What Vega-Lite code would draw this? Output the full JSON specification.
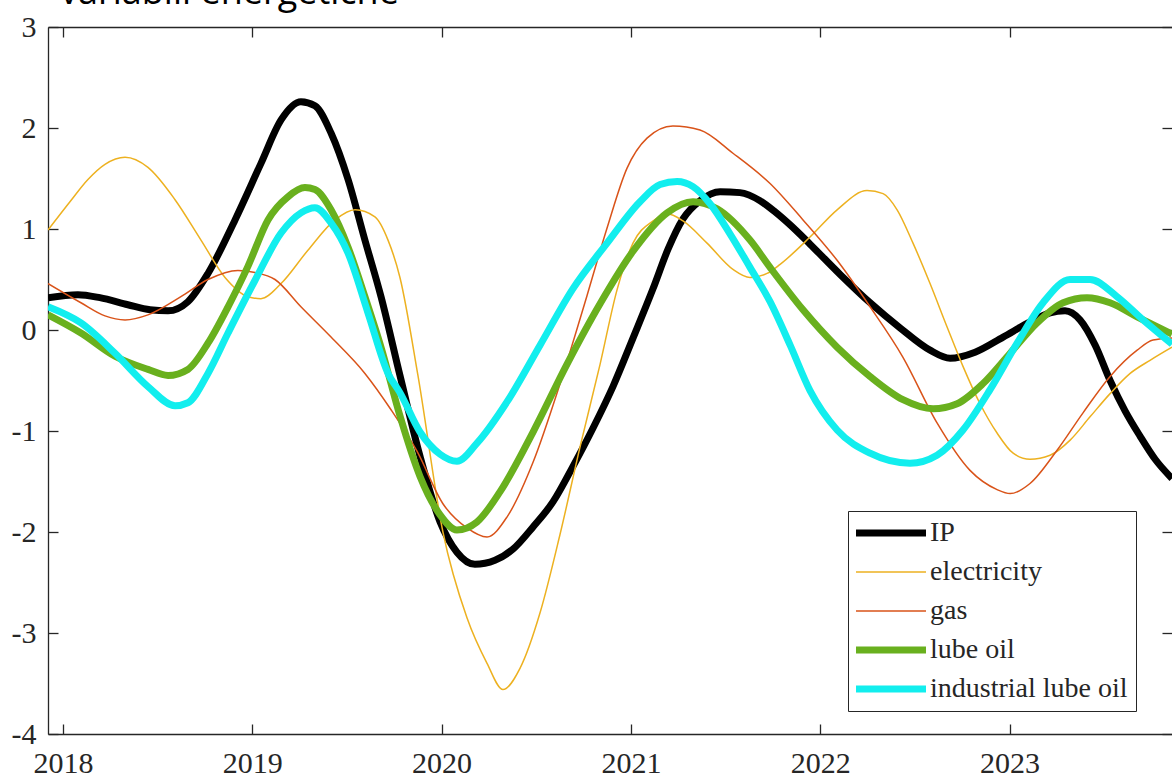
{
  "$schema": "https://vega.github.io/schema/vega-lite/v6.json",
  "width": 1124,
  "height": 707,
  "autosize": {"type": "none"},
  "padding": {"left": 48, "top": 27, "right": 0, "bottom": 45},
  "background": "white",
  "title": {"text": "variabili energetiche", "anchor": "start", "frame": "group", "font": "Open Sans", "fontSize": 36, "fontWeight": "normal", "color": "#000000", "baseline": "alphabetic", "offset": 8, "dx": 12, "dy": 36},
  "data": {"values": [
    {"series":"IP","year":2017.921,"value":0.32},{"series":"IP","year":2018.079,"value":0.35},{"series":"IP","year":2018.195,"value":0.32},{"series":"IP","year":2018.343,"value":0.25},{"series":"IP","year":2018.46,"value":0.2},{"series":"IP","year":2018.555,"value":0.19},{"series":"IP","year":2018.66,"value":0.28},{"series":"IP","year":2018.766,"value":0.56},{"series":"IP","year":2018.909,"value":1.09},{"series":"IP","year":2019.046,"value":1.65},{"series":"IP","year":2019.152,"value":2.08},{"series":"IP","year":2019.257,"value":2.26},{"series":"IP","year":2019.331,"value":2.22},{"series":"IP","year":2019.416,"value":1.95},{"series":"IP","year":2019.506,"value":1.49},{"series":"IP","year":2019.595,"value":0.89},{"series":"IP","year":2019.68,"value":0.33},{"series":"IP","year":2019.78,"value":-0.45},{"series":"IP","year":2019.886,"value":-1.25},{"series":"IP","year":2019.992,"value":-1.9},{"series":"IP","year":2020.081,"value":-2.2},{"series":"IP","year":2020.176,"value":-2.32},{"series":"IP","year":2020.282,"value":-2.28},{"series":"IP","year":2020.377,"value":-2.17},{"series":"IP","year":2020.483,"value":-1.95},{"series":"IP","year":2020.589,"value":-1.7},{"series":"IP","year":2020.694,"value":-1.35},{"series":"IP","year":2020.8,"value":-0.97},{"series":"IP","year":2020.905,"value":-0.56},{"series":"IP","year":2021.011,"value":-0.08},{"series":"IP","year":2021.117,"value":0.41},{"series":"IP","year":2021.196,"value":0.8},{"series":"IP","year":2021.275,"value":1.1},{"series":"IP","year":2021.365,"value":1.28},{"series":"IP","year":2021.471,"value":1.37},{"series":"IP","year":2021.576,"value":1.36},{"series":"IP","year":2021.682,"value":1.28},{"series":"IP","year":2021.761,"value":1.17},{"series":"IP","year":2021.841,"value":1.04},{"series":"IP","year":2021.946,"value":0.85},{"series":"IP","year":2022.105,"value":0.55},{"series":"IP","year":2022.263,"value":0.27},{"series":"IP","year":2022.422,"value":0.02},{"series":"IP","year":2022.58,"value":-0.2},{"series":"IP","year":2022.686,"value":-0.28},{"series":"IP","year":2022.818,"value":-0.22},{"series":"IP","year":2022.966,"value":-0.07},{"series":"IP","year":2023.108,"value":0.08},{"series":"IP","year":2023.214,"value":0.17},{"series":"IP","year":2023.293,"value":0.19},{"series":"IP","year":2023.372,"value":0.1},{"series":"IP","year":2023.452,"value":-0.15},{"series":"IP","year":2023.531,"value":-0.5},{"series":"IP","year":2023.61,"value":-0.8},{"series":"IP","year":2023.689,"value":-1.05},{"series":"IP","year":2023.769,"value":-1.28},{"series":"IP","year":2023.858,"value":-1.47},
    {"series":"electricity","year":2017.921,"value":0.99},{"series":"electricity","year":2018.037,"value":1.27},{"series":"electricity","year":2018.132,"value":1.49},{"series":"electricity","year":2018.222,"value":1.64},{"series":"electricity","year":2018.328,"value":1.71},{"series":"electricity","year":2018.449,"value":1.61},{"series":"electricity","year":2018.592,"value":1.29},{"series":"electricity","year":2018.729,"value":0.89},{"series":"electricity","year":2018.856,"value":0.52},{"series":"electricity","year":2018.977,"value":0.33},{"series":"electricity","year":2019.046,"value":0.31},{"series":"electricity","year":2019.152,"value":0.46},{"series":"electricity","year":2019.294,"value":0.79},{"series":"electricity","year":2019.437,"value":1.09},{"series":"electricity","year":2019.543,"value":1.19},{"series":"electricity","year":2019.648,"value":1.12},{"series":"electricity","year":2019.717,"value":0.89},{"series":"electricity","year":2019.78,"value":0.52},{"series":"electricity","year":2019.875,"value":-0.45},{"series":"electricity","year":2020.007,"value":-2.0},{"series":"electricity","year":2020.134,"value":-2.85},{"series":"electricity","year":2020.24,"value":-3.3},{"series":"electricity","year":2020.324,"value":-3.56},{"series":"electricity","year":2020.414,"value":-3.35},{"series":"electricity","year":2020.52,"value":-2.8},{"series":"electricity","year":2020.626,"value":-2.02},{"series":"electricity","year":2020.731,"value":-1.16},{"series":"electricity","year":2020.837,"value":-0.34},{"series":"electricity","year":2020.927,"value":0.4},{"series":"electricity","year":2021.011,"value":0.86},{"series":"electricity","year":2021.117,"value":1.08},{"series":"electricity","year":2021.191,"value":1.15},{"series":"electricity","year":2021.275,"value":1.08},{"series":"electricity","year":2021.402,"value":0.86},{"series":"electricity","year":2021.539,"value":0.6},{"series":"electricity","year":2021.629,"value":0.52},{"series":"electricity","year":2021.719,"value":0.56},{"series":"electricity","year":2021.788,"value":0.65},{"series":"electricity","year":2021.946,"value":0.92},{"series":"electricity","year":2022.089,"value":1.19},{"series":"electricity","year":2022.247,"value":1.38},{"series":"electricity","year":2022.332,"value":1.35},{"series":"electricity","year":2022.406,"value":1.19},{"series":"electricity","year":2022.49,"value":0.86},{"series":"electricity","year":2022.58,"value":0.46},{"series":"electricity","year":2022.67,"value":0.03},{"series":"electricity","year":2022.754,"value":-0.36},{"series":"electricity","year":2022.844,"value":-0.73},{"series":"electricity","year":2022.934,"value":-1.02},{"series":"electricity","year":2023.019,"value":-1.22},{"series":"electricity","year":2023.108,"value":-1.28},{"series":"electricity","year":2023.214,"value":-1.24},{"series":"electricity","year":2023.32,"value":-1.09},{"series":"electricity","year":2023.425,"value":-0.86},{"series":"electricity","year":2023.531,"value":-0.63},{"series":"electricity","year":2023.637,"value":-0.43},{"series":"electricity","year":2023.742,"value":-0.3},{"series":"electricity","year":2023.858,"value":-0.17},
    {"series":"gas","year":2017.921,"value":0.46},{"series":"gas","year":2018.095,"value":0.27},{"series":"gas","year":2018.222,"value":0.14},{"series":"gas","year":2018.328,"value":0.1},{"series":"gas","year":2018.449,"value":0.15},{"series":"gas","year":2018.623,"value":0.33},{"series":"gas","year":2018.766,"value":0.5},{"series":"gas","year":2018.924,"value":0.59},{"series":"gas","year":2019.014,"value":0.57},{"series":"gas","year":2019.12,"value":0.5},{"series":"gas","year":2019.257,"value":0.23},{"series":"gas","year":2019.416,"value":-0.07},{"series":"gas","year":2019.595,"value":-0.43},{"series":"gas","year":2019.733,"value":-0.79},{"series":"gas","year":2019.87,"value":-1.2},{"series":"gas","year":2020.007,"value":-1.72},{"series":"gas","year":2020.134,"value":-1.96},{"series":"gas","year":2020.24,"value":-2.05},{"series":"gas","year":2020.346,"value":-1.85},{"series":"gas","year":2020.483,"value":-1.31},{"series":"gas","year":2020.626,"value":-0.53},{"series":"gas","year":2020.768,"value":0.34},{"series":"gas","year":2020.874,"value":1.01},{"series":"gas","year":2020.979,"value":1.6},{"series":"gas","year":2021.085,"value":1.9},{"series":"gas","year":2021.222,"value":2.02},{"series":"gas","year":2021.365,"value":1.98},{"series":"gas","year":2021.539,"value":1.75},{"series":"gas","year":2021.735,"value":1.45},{"series":"gas","year":2021.909,"value":1.09},{"series":"gas","year":2022.089,"value":0.69},{"series":"gas","year":2022.263,"value":0.23},{"series":"gas","year":2022.437,"value":-0.27},{"series":"gas","year":2022.617,"value":-0.92},{"series":"gas","year":2022.791,"value":-1.39},{"series":"gas","year":2022.934,"value":-1.58},{"series":"gas","year":2023.003,"value":-1.62},{"series":"gas","year":2023.108,"value":-1.52},{"series":"gas","year":2023.251,"value":-1.19},{"series":"gas","year":2023.388,"value":-0.82},{"series":"gas","year":2023.531,"value":-0.46},{"series":"gas","year":2023.674,"value":-0.2},{"series":"gas","year":2023.758,"value":-0.1},{"series":"gas","year":2023.858,"value":-0.08},
    {"series":"lube oil","year":2017.921,"value":0.15},{"series":"lube oil","year":2018.095,"value":-0.03},{"series":"lube oil","year":2018.275,"value":-0.26},{"series":"lube oil","year":2018.449,"value":-0.39},{"series":"lube oil","year":2018.555,"value":-0.45},{"series":"lube oil","year":2018.66,"value":-0.39},{"series":"lube oil","year":2018.766,"value":-0.13},{"series":"lube oil","year":2018.872,"value":0.23},{"series":"lube oil","year":2018.977,"value":0.63},{"series":"lube oil","year":2019.083,"value":1.09},{"series":"lube oil","year":2019.189,"value":1.32},{"series":"lube oil","year":2019.278,"value":1.41},{"series":"lube oil","year":2019.331,"value":1.39},{"series":"lube oil","year":2019.416,"value":1.19},{"series":"lube oil","year":2019.506,"value":0.82},{"series":"lube oil","year":2019.595,"value":0.33},{"series":"lube oil","year":2019.68,"value":-0.17},{"series":"lube oil","year":2019.78,"value":-0.85},{"series":"lube oil","year":2019.886,"value":-1.45},{"series":"lube oil","year":2019.992,"value":-1.83},{"series":"lube oil","year":2020.081,"value":-1.98},{"series":"lube oil","year":2020.187,"value":-1.9},{"series":"lube oil","year":2020.309,"value":-1.6},{"series":"lube oil","year":2020.483,"value":-1.01},{"series":"lube oil","year":2020.662,"value":-0.34},{"series":"lube oil","year":2020.837,"value":0.26},{"series":"lube oil","year":2021.011,"value":0.78},{"series":"lube oil","year":2021.191,"value":1.16},{"series":"lube oil","year":2021.328,"value":1.27},{"series":"lube oil","year":2021.455,"value":1.2},{"series":"lube oil","year":2021.629,"value":0.89},{"series":"lube oil","year":2021.735,"value":0.62},{"series":"lube oil","year":2021.909,"value":0.2},{"series":"lube oil","year":2022.089,"value":-0.17},{"series":"lube oil","year":2022.263,"value":-0.46},{"series":"lube oil","year":2022.437,"value":-0.69},{"series":"lube oil","year":2022.596,"value":-0.78},{"series":"lube oil","year":2022.723,"value":-0.73},{"series":"lube oil","year":2022.86,"value":-0.53},{"series":"lube oil","year":2023.003,"value":-0.23},{"series":"lube oil","year":2023.145,"value":0.07},{"series":"lube oil","year":2023.283,"value":0.27},{"series":"lube oil","year":2023.409,"value":0.32},{"series":"lube oil","year":2023.531,"value":0.27},{"series":"lube oil","year":2023.674,"value":0.13},{"series":"lube oil","year":2023.858,"value":-0.04},
    {"series":"industrial lube oil","year":2017.921,"value":0.23},{"series":"industrial lube oil","year":2018.095,"value":0.07},{"series":"industrial lube oil","year":2018.275,"value":-0.23},{"series":"industrial lube oil","year":2018.449,"value":-0.56},{"series":"industrial lube oil","year":2018.592,"value":-0.75},{"series":"industrial lube oil","year":2018.66,"value":-0.72},{"series":"industrial lube oil","year":2018.766,"value":-0.43},{"series":"industrial lube oil","year":2018.872,"value":-0.03},{"series":"industrial lube oil","year":2019.014,"value":0.49},{"series":"industrial lube oil","year":2019.152,"value":0.96},{"series":"industrial lube oil","year":2019.257,"value":1.16},{"series":"industrial lube oil","year":2019.331,"value":1.21},{"series":"industrial lube oil","year":2019.416,"value":1.06},{"series":"industrial lube oil","year":2019.506,"value":0.76},{"series":"industrial lube oil","year":2019.611,"value":0.17},{"series":"industrial lube oil","year":2019.717,"value":-0.43},{"series":"industrial lube oil","year":2019.78,"value":-0.62},{"series":"industrial lube oil","year":2019.886,"value":-1.01},{"series":"industrial lube oil","year":2019.992,"value":-1.23},{"series":"industrial lube oil","year":2020.081,"value":-1.3},{"series":"industrial lube oil","year":2020.187,"value":-1.12},{"series":"industrial lube oil","year":2020.346,"value":-0.71},{"series":"industrial lube oil","year":2020.52,"value":-0.15},{"series":"industrial lube oil","year":2020.694,"value":0.41},{"series":"industrial lube oil","year":2020.874,"value":0.86},{"series":"industrial lube oil","year":2021.048,"value":1.27},{"series":"industrial lube oil","year":2021.154,"value":1.44},{"series":"industrial lube oil","year":2021.244,"value":1.47},{"series":"industrial lube oil","year":2021.328,"value":1.42},{"series":"industrial lube oil","year":2021.418,"value":1.25},{"series":"industrial lube oil","year":2021.524,"value":0.95},{"series":"industrial lube oil","year":2021.629,"value":0.62},{"series":"industrial lube oil","year":2021.735,"value":0.28},{"series":"industrial lube oil","year":2021.841,"value":-0.15},{"series":"industrial lube oil","year":2021.946,"value":-0.6},{"series":"industrial lube oil","year":2022.089,"value":-0.99},{"series":"industrial lube oil","year":2022.263,"value":-1.22},{"series":"industrial lube oil","year":2022.474,"value":-1.32},{"series":"industrial lube oil","year":2022.617,"value":-1.24},{"series":"industrial lube oil","year":2022.754,"value":-0.99},{"series":"industrial lube oil","year":2022.897,"value":-0.59},{"series":"industrial lube oil","year":2023.04,"value":-0.13},{"series":"industrial lube oil","year":2023.177,"value":0.27},{"series":"industrial lube oil","year":2023.32,"value":0.5},{"series":"industrial lube oil","year":2023.425,"value":0.5},{"series":"industrial lube oil","year":2023.568,"value":0.33},{"series":"industrial lube oil","year":2023.705,"value":0.1},{"series":"industrial lube oil","year":2023.858,"value":-0.14}
  ]},
  "layer": [
    {
      "mark": {"type": "line", "interpolate": "monotone", "clip": true, "strokeCap": "butt", "strokeJoin": "round"},
      "encoding": {
        "x": {"field": "year", "type": "quantitative", "scale": {"domain": [2017.921, 2023.858], "nice": false, "zero": false},
          "axis": {"orient": "bottom", "values": [2018, 2019, 2020, 2021, 2022, 2023], "format": "d", "title": null, "grid": false, "domainColor": "#262626", "domainWidth": 1.3, "tickColor": "#262626", "tickWidth": 1.3, "tickSize": -10, "labelFont": "Liberation Serif", "labelFontSize": 30, "labelColor": "#262626", "labelPadding": 24, "labelFlush": false, "labelOverlap": false}},
        "y": {"field": "value", "type": "quantitative", "scale": {"domain": [-4, 3], "nice": false, "zero": false},
          "axis": {"orient": "left", "values": [-4, -3, -2, -1, 0, 1, 2, 3], "labelExpr": "datum.value < 0 ? '-' + abs(datum.value) : '' + datum.value", "title": null, "grid": false, "domainColor": "#262626", "domainWidth": 1.3, "tickColor": "#262626", "tickWidth": 1.3, "tickSize": -10, "labelFont": "Liberation Serif", "labelFontSize": 30, "labelColor": "#262626", "labelPadding": 22, "labelOverlap": false}},
        "color": {"field": "series", "type": "nominal",
          "scale": {"domain": ["IP", "electricity", "gas", "lube oil", "industrial lube oil"], "range": ["#000000", "#EDB120", "#D95319", "#69B01E", "#12EEEE"]},
          "legend": {"title": null, "orient": "none", "legendX": 800, "legendY": 484, "symbolType": "M-1.333,0H5.333", "symbolSize": 441, "labelOffset": 46, "labelFont": "Liberation Serif", "labelFontSize": 28, "labelColor": "#262626", "labelLimit": 400, "strokeColor": "#262626", "fillColor": "white", "padding": 8, "rowPadding": 11}},
        "strokeWidth": {"field": "series", "type": "nominal",
          "scale": {"type": "ordinal", "domain": ["IP", "electricity", "gas", "lube oil", "industrial lube oil"], "range": [7, 1.5, 1.5, 7, 7]},
          "legend": {"title": null, "orient": "none", "legendX": 800, "legendY": 484, "symbolType": "M-1.333,0H5.333", "symbolSize": 441, "labelOffset": 46, "labelFont": "Liberation Serif", "labelFontSize": 28, "labelColor": "#262626", "labelLimit": 400, "strokeColor": "#262626", "fillColor": "white", "padding": 8, "rowPadding": 11}}
      }
    },
    {
      "mark": {"type": "point", "opacity": 0},
      "encoding": {
        "x": {"field": "year", "type": "quantitative", "scale": {"domain": [2017.921, 2023.858], "nice": false, "zero": false},
          "axis": {"orient": "top", "values": [2018, 2019, 2020, 2021, 2022, 2023], "labels": false, "title": null, "grid": false, "domainColor": "#262626", "domainWidth": 1.3, "tickColor": "#262626", "tickWidth": 1.3, "tickSize": -10}},
        "y": {"field": "value", "type": "quantitative", "scale": {"domain": [-4, 3], "nice": false, "zero": false},
          "axis": {"orient": "right", "values": [-4, -3, -2, -1, 0, 1, 2, 3], "labels": false, "title": null, "grid": false, "domain": false, "tickColor": "#262626", "tickWidth": 1.3, "tickSize": -10}}
      }
    }
  ],
  "resolve": {"axis": {"x": "independent", "y": "independent"}},
  "config": {"view": {"stroke": null}}
}
